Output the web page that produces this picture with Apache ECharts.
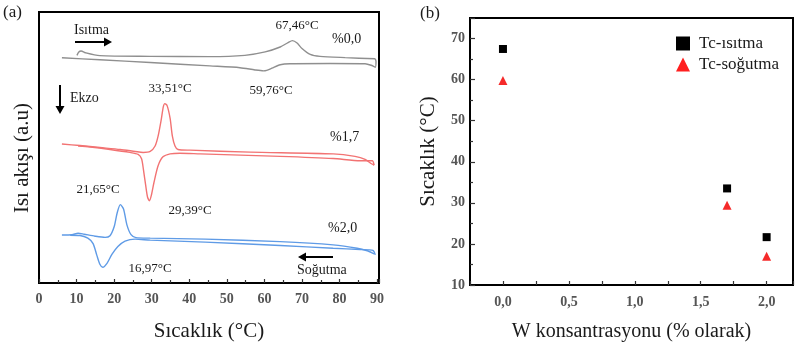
<!DOCTYPE html>
<html>
<head>
<meta charset="utf-8">
<script src="https://cdn.jsdelivr.net/npm/echarts@6/dist/echarts.min.js"></script>
<style>html,body{margin:0;padding:0;background:#fff;}#c{width:796px;height:347px;}</style>
</head>
<body>
<div id="c"></div>
<script>
// ---------- Panel (a): DSC curves, [temperature °C, heat flow a.u.] ----------
const gray00Heat = [[10.1,231],[10.6,234.5],[11.2,235.5],[12.5,233.5],[16.2,230.7],[29.6,230],[45.5,229.7],[54.8,231],[60.2,234.5],[64.2,239.5],[66.3,244],[67.46,246],[68.7,243.5],[70.0,238],[72.2,232],[74.8,230],[81.5,228.7],[89.5,227.5]];
const gray00Cool = [[89.5,227.5],[89.7,225],[89.5,219],[88.4,221],[86.8,222.5],[77.5,222.7],[66.8,222.5],[64.2,221.5],[62.0,218],[60.6,215.8],[59.76,215.3],[57.5,216.2],[53.5,218.5],[45.5,220.3],[29.6,223.7],[16.2,226.5],[6.1,228.5]];
const red17Heat = [[6.1,141],[10.9,139.5],[16.2,137.5],[21.6,135.5],[25.6,133.5],[27.7,132.5],[29.6,133.5],[30.9,139],[31.7,149],[32.5,165],[33.1,179],[33.51,182],[34.1,180],[34.9,167],[35.5,149],[36.2,139],[37.0,135.5],[40.2,134.8],[56.2,132.8],[78.3,131],[84.1,128.5],[86.8,125.5],[88.5,121],[89.2,119.5]];
const red17Cool = [[89.2,119.5],[88.7,124],[85.5,124],[78.3,126.3],[64.2,128.5],[42.9,131],[37.5,131.7],[34.9,131],[33.0,128],[31.7,119],[30.6,102],[29.9,89],[29.39,83.5],[28.9,87],[28.4,99],[27.8,115],[27.3,126],[26.4,130.5],[24.2,132.5],[18.9,135.5],[13.6,138],[10.4,139]];
const blue20Heat = [[6.1,48.7],[8.8,49],[10.4,50.5],[12.0,49.5],[14.9,47.5],[17.6,46.3],[18.9,48],[20.0,57],[20.8,71],[21.65,79.5],[22.5,75],[23.4,59],[24.5,49],[25.8,46],[29.6,45.5],[44.2,44.5],[64.2,42],[78.3,38.7],[84.7,35.3],[87.6,32.5],[89.2,29.5]];
const blue20Cool = [[89.5,28.5],[88.9,33],[85.5,34],[78.3,35.3],[64.2,38],[44.2,41.5],[29.6,43.5],[25.6,44.5],[22.9,42.5],[21.0,37],[19.4,29],[18.1,20],[16.97,16],[16.2,19],[15.4,28],[14.4,40],[13.0,45.5],[10.9,48.2],[8.3,48.5]];
const xTicksA = [0,10,20,30,40,50,60,70,80,90];

// ---------- Panel (b): Tc vs W concentration ----------
const wConc = [0.0, 1.7, 2.0];
const tcHeating = [67.46, 33.51, 21.65];
const tcCooling = [59.76, 29.39, 16.97];
const seriesNames = ['Tc-ısıtma', 'Tc-soğutma'];
const yTicksB = [10,20,30,40,50,60,70];

const SERIF = '"Liberation Serif", "DejaVu Serif", serif';
const chart = echarts.init(document.getElementById('c'), null, {renderer: 'canvas'});

function txt(text, x, y, size, align, opts) {
  return Object.assign({
    type: 'text', x: x, y: y, z: 100,
    style: {text: text, font: size + 'px ' + SERIF, fill: '#1a1a1a', textAlign: align || 'left', textVerticalAlign: 'middle'}
  }, opts || {});
}
function arrow(x1, y1, x2, y2) {
  const ang = Math.atan2(y2 - y1, x2 - x1);
  const L = 8, W = 4.5;
  const bx = x2 - L * Math.cos(ang), by = y2 - L * Math.sin(ang);
  const px = -Math.sin(ang) * W, py = Math.cos(ang) * W;
  return [
    {type: 'line', z: 100, shape: {x1: x1, y1: y1, x2: bx, y2: by}, style: {stroke: '#000', lineWidth: 2}},
    {type: 'polygon', z: 100, shape: {points: [[x2, y2], [bx + px, by + py], [bx - px, by - py]]}, style: {fill: '#000'}}
  ];
}

const lineStyleA = (c) => ({color: c, width: 1.4});
function curve(data, color) {
  return {type: 'line', xAxisIndex: 0, yAxisIndex: 0, data: data, showSymbol: false, symbol: 'none',
    smooth: 0.25, lineStyle: lineStyleA(color), itemStyle: {color: color}, silent: true};
}

const option = {
  animation: false,
  backgroundColor: '#fff',
  grid: [
    {left: 39, top: 12, width: 340, height: 275, show: true, borderColor: '#000', borderWidth: 2, backgroundColor: 'transparent'},
    {left: 470, top: 18, width: 324, height: 268, show: true, borderColor: '#000', borderWidth: 2, backgroundColor: 'transparent'}
  ],
  xAxis: [
    {gridIndex: 0, type: 'value', min: 0, max: 90.5, interval: 10,
      name: 'Sıcaklık (°C)', nameLocation: 'middle', nameGap: 38,
      nameTextStyle: {fontFamily: SERIF, fontSize: 21, color: '#1a1a1a'},
      axisLine: {show: true, onZero: false, lineStyle: {color: '#000', width: 2}},
      axisTick: {show: true, inside: true, length: 4, lineStyle: {color: '#333', width: 1.2}},
      minorTick: {show: true, splitNumber: 2, length: 3, lineStyle: {color: '#333', width: 1.2}},
      splitLine: {show: false},
      axisLabel: {margin: 9, fontFamily: SERIF, fontSize: 14, fontWeight: 'bold', color: '#555',
        formatter: (v) => xTicksA.indexOf(v) >= 0 ? String(v) : ''}},
    {gridIndex: 1, type: 'value', min: -0.25, max: 2.2, interval: 0.25,
      name: 'W konsantrasyonu (% olarak)', nameLocation: 'middle', nameGap: 37,
      nameTextStyle: {fontFamily: SERIF, fontSize: 20, color: '#1a1a1a'},
      axisLine: {show: true, onZero: false, lineStyle: {color: '#000', width: 2}},
      axisTick: {show: true, inside: true, length: 4, lineStyle: {color: '#333', width: 1.2}},
      splitLine: {show: false},
      axisLabel: {margin: 10, fontFamily: SERIF, fontSize: 14, fontWeight: 'bold', color: '#555',
        formatter: (v) => {
          const r = Math.round(v * 100) / 100;
          if (r < 0 || Math.abs(r * 2 - Math.round(r * 2)) > 1e-6) return '';
          return r.toFixed(1).replace('.', ',');
        }}}
  ],
  yAxis: [
    {gridIndex: 0, type: 'value', min: 0, max: 275, show: false, splitLine: {show: false}},
    {gridIndex: 1, type: 'value', min: 10, max: 75, interval: 10,
      name: 'Sıcaklık (°C)', nameLocation: 'middle', nameGap: 31,
      nameTextStyle: {fontFamily: SERIF, fontSize: 21, color: '#1a1a1a'},
      axisLine: {show: true, onZero: false, lineStyle: {color: '#000', width: 2}},
      axisTick: {show: true, inside: true, length: 5, lineStyle: {color: '#333', width: 1.2}},
      minorTick: {show: true, splitNumber: 2, length: 3, lineStyle: {color: '#333', width: 1.2}},
      splitLine: {show: false},
      axisLabel: {margin: 5, fontFamily: SERIF, fontSize: 14, fontWeight: 'bold', color: '#555',
        formatter: (v) => yTicksB.indexOf(v) >= 0 ? String(v) : ''}}
  ],
  legend: {
    show: true, orient: 'vertical', left: 671, top: 30, itemWidth: 14, itemHeight: 14, itemGap: 4,
    textStyle: {fontFamily: SERIF, fontSize: 17, color: '#1a1a1a', padding: [0, 0, 0, 4]},
    data: [{name: seriesNames[0], icon: 'rect', itemStyle: {color: '#000', opacity: 1}},
           {name: seriesNames[1], icon: 'triangle', itemStyle: {color: '#ff1f1f', opacity: 1}}]
  },
  series: [
    curve(gray00Heat, '#8f8f8f'), curve(gray00Cool, '#8f8f8f'),
    curve(red17Heat, '#f27373'), curve(red17Cool, '#f27373'),
    curve(blue20Heat, '#5f9be6'), curve(blue20Cool, '#5f9be6'),
    {name: seriesNames[0], type: 'scatter', xAxisIndex: 1, yAxisIndex: 1, symbol: 'rect', symbolSize: 8,
      itemStyle: {color: '#000', opacity: 1}, data: wConc.map((w, i) => [w, tcHeating[i]])},
    {name: seriesNames[1], type: 'scatter', xAxisIndex: 1, yAxisIndex: 1, symbol: 'triangle', symbolSize: 9,
      itemStyle: {color: '#f52a2a', opacity: 1}, data: wConc.map((w, i) => [w, tcCooling[i]])}
  ],
  graphic: [
    txt('(a)', 3, 13, 17),
    txt('(b)', 420, 14, 17),
    txt('Isı akışı (a.u)', 22, 158, 21, 'center', {rotation: Math.PI / 2}),
    txt('Isıtma', 74, 30, 14),
    ...arrow(75, 42, 112, 42),
    txt('67,46°C', 297, 26, 13, 'center'),
    txt('%0,0', 332, 39, 14),
    ...arrow(60, 85, 60, 114),
    txt('Ekzo', 70, 98, 14),
    txt('33,51°C', 170, 89, 13, 'center'),
    txt('59,76°C', 271, 91, 13, 'center'),
    txt('%1,7', 330, 137, 14),
    txt('21,65°C', 98, 190, 13, 'center'),
    txt('29,39°C', 190, 211, 13, 'center'),
    txt('%2,0', 328, 228, 14),
    txt('16,97°C', 150, 269, 13, 'center'),
    ...arrow(333, 257, 298, 257),
    txt('Soğutma', 297, 270, 14)
  ]
};
chart.setOption(option);
</script>
</body>
</html>
